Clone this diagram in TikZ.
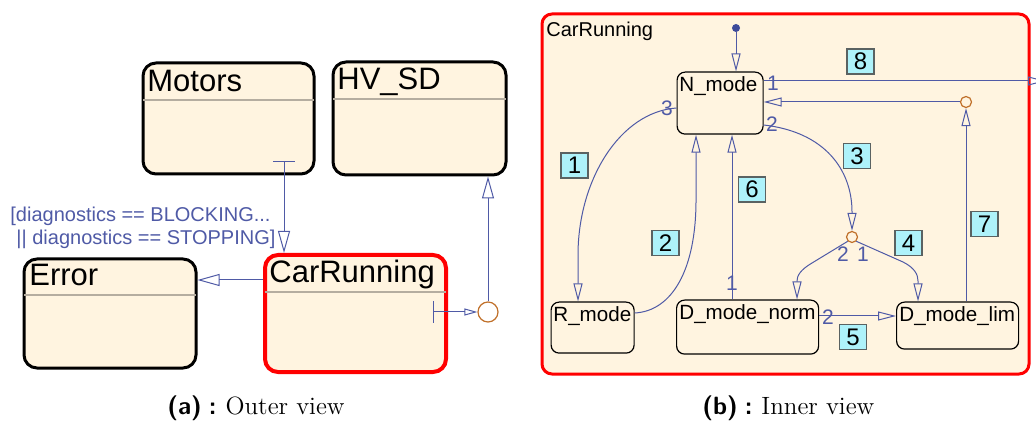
\documentclass[tikz,border=0pt]{standalone}
\usepackage{fontspec}
\usetikzlibrary{arrows.meta}
\newfontfamily\diagfont{Liberation Sans}

\definecolor{stfill}{HTML}{FFF4E0}
\definecolor{sepgray}{HTML}{B5ADA0}
\definecolor{trblue}{HTML}{4F5AA6}
\definecolor{initblue}{HTML}{3D4A9A}
\definecolor{juncol}{HTML}{C0702A}
\definecolor{lblcyan}{HTML}{AEF2FA}
\definecolor{lbledge}{HTML}{5A6262}

\tikzset{
  outerstate/.style={draw=black, line width=1.5pt, fill=stfill, rounded corners=6.5pt,
    anchor=north west, inner sep=0pt},
  activestate/.style={outerstate, draw=red, line width=2pt},
  innerstate/.style={draw=black, line width=0.6pt, fill=stfill, rounded corners=4pt,
    anchor=north west, inner sep=0pt},
  bigtitle/.style={anchor=base west, inner sep=0pt, font=\diagfont\fontsize{15.5}{15.5}\selectfont},
  smalltitle/.style={anchor=base west, inner sep=0pt, font=\diagfont\fontsize{10.3}{10.3}\selectfont},
  separator/.style={draw=sepgray, line width=0.75pt, shorten <=0.8pt, shorten >=0.8pt},
  trans/.style={draw=trblue, line width=0.5pt},
  bigtip/.style={-{Triangle[open, length=11pt, width=6pt]}},
  midtip/.style={-{Triangle[open, length=9pt, width=4.5pt]}},
  smalltip/.style={-{Triangle[open, length=6.5pt, width=3.5pt]}},
  junction/.style={circle, draw=juncol, line width=0.6pt, inner sep=0pt, minimum size=5.5pt},
  guard/.style={anchor=base west, inner sep=0pt, text=trblue, font=\diagfont\fontsize{10}{10}\selectfont},
  prio/.style={inner sep=0pt, text=trblue, font=\diagfont\fontsize{10.5}{10.5}\selectfont},
  order/.style={draw=lbledge, line width=0.6pt, fill=lblcyan, minimum width=13.5pt,
    minimum height=12.5pt, inner sep=0pt, font=\diagfont\fontsize{12}{12}\selectfont},
  caption/.style={anchor=base west, inner sep=0pt, font=\fontsize{12.5}{14}\selectfont}
}

\begin{document}
\begin{tikzpicture}[x=0.5pt, y=-0.5pt]
\useasboundingbox (0,0) rectangle (1036,421);

% ---------- outer view ----------
\node[outerstate, minimum width=85.5pt, minimum height=55.5pt] (motors) at (141.5,61.5) {};
\node[outerstate, minimum width=86.5pt, minimum height=56.5pt] (hvsd) at (331.5,60.5) {};
\node[outerstate, minimum width=86pt, minimum height=54.5pt] (err) at (22.5,257.5) {};
\node[activestate, minimum width=90.5pt, minimum height=58.5pt] (crun) at (263,253) {};

\draw[separator] ([yshift=-19.25pt]motors.north west) -- ([yshift=-19.25pt]motors.north east);
\draw[separator] ([yshift=-19.25pt]hvsd.north west) -- ([yshift=-19.25pt]hvsd.north east);
\draw[separator] ([yshift=-18.75pt]err.north west) -- ([yshift=-18.75pt]err.north east);
\draw[separator] ([yshift=-19.5pt]crun.north west) -- ([yshift=-19.5pt]crun.north east);

\node[bigtitle] (motorsT) at (147,91.5) {Motors};
\node[bigtitle] (hvsdT) at (337,90) {HV\_SD};
\node[bigtitle] (errT) at (29,286) {Error};
\node[bigtitle] (crunT) at (269,283) {CarRunning};

% Motors -> CarRunning, with its guard
\coordinate (mtick) at (284,162);
\draw[trans] ([xshift=-5.5pt]mtick) -- ([xshift=5.5pt]mtick);
\draw[trans, bigtip] (mtick) -- (mtick |- crun.north);
\node[guard] (guardA) at (10,222) {[diagnostics == BLOCKING...};
\node[guard] (guardB) at (16,245) {|| diagnostics == STOPPING]};

% CarRunning -> Error
\coordinate (errY) at (0,280);
\draw[trans, bigtip] (crun.west |- errY) -- (err.east |- errY);

% CarRunning exit -> junction -> HV_SD
\node[junction, minimum size=10pt] (hvj) at (488,312) {};
\coordinate (ctick) at (433,312);
\draw[trans] ([yshift=5.5pt]ctick) -- ([yshift=-5.5pt]ctick);
\draw[trans, smalltip] (ctick) -- (hvj.west);
\draw[trans, bigtip] (hvj.north) -- (hvj.north |- hvsd.south);

% ---------- inner view ----------
\node[draw=red, line width=1.5pt, fill=stfill, rounded corners=5pt, anchor=north west,
  inner sep=0pt, minimum width=243.5pt, minimum height=180pt] (inner) at (540.5,12.5) {};
\node[smalltitle, font=\diagfont\fontsize{10}{10}\selectfont] (innerT) at (546,37) {CarRunning};

\node[innerstate, minimum width=43pt, minimum height=31pt] (nmode) at (676.5,71.5) {};
\node[innerstate, minimum width=41.5pt, minimum height=25.5pt] (rmode) at (550.5,301.5) {};
\node[innerstate, minimum width=71pt, minimum height=27pt] (dnorm) at (676,299.5) {};
\node[innerstate, minimum width=61pt, minimum height=23.5pt] (dlim) at (896,301.5) {};

\node[smalltitle] (nmodeT) at (679,91.5) {N\_mode};
\node[smalltitle] (rmodeT) at (553,321.5) {R\_mode};
\node[smalltitle] (dnormT) at (679,320) {D\_mode\_norm};
\node[smalltitle] (dlimT) at (899,321.5) {D\_mode\_lim};

\node[junction] (junA) at (966,102) {};
\node[junction] (junB) at (852,237) {};
\node[circle, fill=initblue, inner sep=0pt, minimum size=4pt] (init) at (736,28) {};

% default entry
\draw[trans, midtip] (init) -- (init |- nmode.north);

% 8: leaving CarRunning
\coordinate (exitY) at (0,81);
\coordinate (exitpt) at (1046,81);
\draw[trans, midtip] (nmode.east |- exitY) -- (exitpt);

% 7: D_mode_lim -> junction -> N_mode
\draw[trans, midtip] (dlim.north -| junA) -- (junA.south);
\draw[trans, midtip] (junA.west) -- (junA.west -| nmode.east);

% 6: D_mode_norm -> N_mode
\coordinate (t6x) at (732,0);
\draw[trans, midtip] (dnorm.north -| t6x) -- (nmode.south -| t6x);

% 1: N_mode -> R_mode
\coordinate (t1y) at (0,108);
\coordinate (t1x) at (578,0);
\draw[trans, midtip] (nmode.west |- t1y) .. controls (620,112) and (578,180) .. (578,255)
  -- (rmode.north -| t1x);

% 2: R_mode -> N_mode
\coordinate (t2y) at (0,313);
\coordinate (t2x) at (696,0);
\draw[trans, midtip] (rmode.east |- t2y) .. controls (672,311) and (696,270) .. (696,200)
  -- (nmode.south -| t2x);

% 3: N_mode -> junction
\coordinate (t3y) at (0,125);
\draw[trans, midtip] (nmode.east |- t3y) .. controls (825,132) and (852,170) .. (852,212)
  -- (junB.north);

% 4: junction -> D_mode_norm / D_mode_lim
\coordinate (t4a) at (797,0);
\coordinate (t4b) at (918,0);
\draw[trans, midtip] (junB.south west) -- (812,263) .. controls (800,270) and (797,276) .. (797,281)
  -- (dnorm.north -| t4a);
\draw[trans, midtip] (junB.south east) -- (903,262) .. controls (915,268) and (918,275) .. (918,281)
  -- (dlim.north -| t4b);

% 5: D_mode_norm -> D_mode_lim
\coordinate (t5y) at (0,316);
\draw[trans, midtip] (dnorm.east |- t5y) -- (dlim.west |- t5y);

% priority numbers
\node[prio] (p8) at (773,83) {1};
\node[prio] (p1) at (667,108) {3};
\node[prio] (p3) at (772,124) {2};
\node[prio] (p6) at (732,283) {1};
\node[prio] (p4a) at (843,254) {2};
\node[prio] (p4b) at (863,254) {1};
\node[prio] (p5) at (828,317) {2};

% execution order boxes
\node[order] (o1) at (574.5,165.5) {1};
\node[order] (o2) at (665.5,243) {2};
\node[order] (o3) at (857,156) {3};
\node[order] (o4) at (908.5,243) {4};
\node[order] (o5) at (853,337) {5};
\node[order] (o6) at (752,189.5) {6};
\node[order] (o7) at (984.5,224) {7};
\node[order] (o8) at (860.5,61.5) {8};

% ---------- captions ----------
\node[caption] (capA) at (167,414) {\textsf{\bfseries (a)\hspace{3.5pt}:}\hspace{4.5pt}Outer view};
\node[caption] (capB) at (702,414) {\textsf{\bfseries (b)\hspace{3.5pt}:}\hspace{4.5pt}Inner view};
\end{tikzpicture}
\end{document}
